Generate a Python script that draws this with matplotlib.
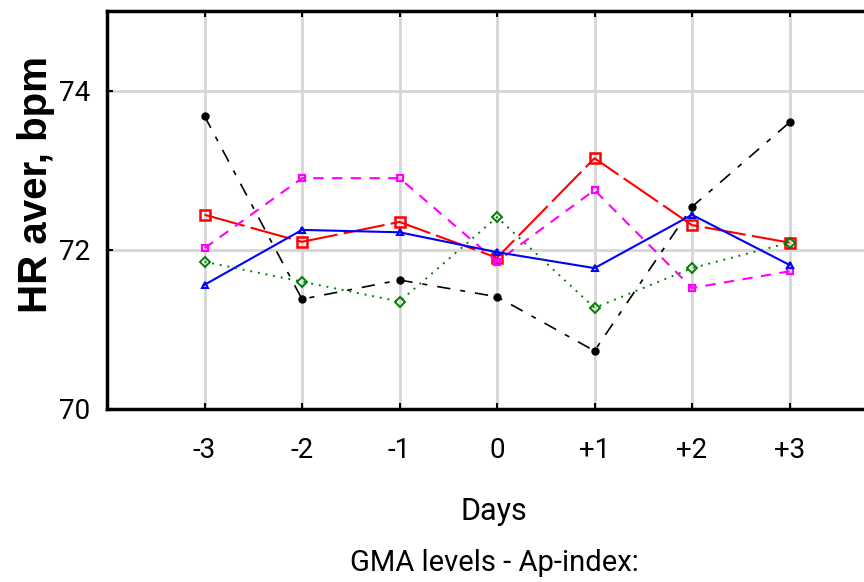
import matplotlib.pyplot as plt
import numpy as np

days = [-3, -2, -1, 0, 1, 2, 3]
day_labels = ["-3", "-2", "-1", "0", "+1", "+2", "+3"]

hr_black = [73.68, 71.38, 71.62, 71.41, 70.73, 72.54, 73.60]
hr_red = [72.44, 72.10, 72.35, 71.90, 73.15, 72.31, 72.09]
hr_magenta = [72.02, 72.90, 72.90, 71.85, 72.75, 71.52, 71.73]
hr_blue = [71.56, 72.25, 72.22, 71.97, 71.77, 72.44, 71.81]
hr_green = [71.85, 71.60, 71.35, 72.41, 71.27, 71.77, 72.09]

fig = plt.figure(figsize=(8.64, 5.82), dpi=100)
# axes box runs off the right edge of the picture
ax = fig.add_axes([107 / 864, 1 - 409 / 582, (864 - 107) / 864, (409 - 11) / 582])

ax.plot(days, hr_black, color="black", lw=1.2, dashes=(8, 6, 3, 6),
        marker="o", ms=5, mfc="black", zorder=3)
ax.plot(days, hr_red, color="red", lw=1.5, dashes=(20, 3),
        marker="s", ms=7, mfc="none", mew=1.8, zorder=3)
ax.plot(days, hr_magenta, color="magenta", lw=1.5, dashes=(5, 4),
        marker="s", ms=5, mfc="none", mew=1.6, zorder=3)
ax.plot(days, hr_blue, color="blue", lw=1.5,
        marker="^", ms=5, mfc="none", mew=1.5, zorder=3)
ax.plot(days, hr_green, color="green", lw=1.4, ls=(0, (1, 3)),
        marker="D", ms=5, mfc="none", mew=1.4, zorder=3)

ax.set_xlim(-4, -4 + 757 / 97.5)
ax.set_ylim(70, 75)
ax.set_xticks(days)
ax.set_xticklabels(day_labels)
ax.set_yticks([70, 72, 74])
ax.grid(True, color="#d6d6d6", lw=2)
ax.set_axisbelow(True)

for side in ["left", "bottom", "top"]:
    ax.spines[side].set_linewidth(2.5)
ax.spines["right"].set_visible(False)
ax.tick_params(direction="in", length=4, width=1.5, top=True, labelsize=20)
ax.tick_params(axis="x", pad=20)
ax.tick_params(axis="y", pad=12)
for lab in ax.get_xticklabels() + ax.get_yticklabels():
    lab.set_fontfamily("Roboto")

ax.set_ylabel("HR aver, bpm", fontsize=29, fontweight="bold",
              family="Liberation Sans", va="center")
ax.yaxis.set_label_coords(-0.094, 0.563)
fig.text(494 / 864, 1 - 512 / 582, "Days", ha="center", va="center",
         fontsize=22, family="Roboto")
fig.text(494 / 864, 1 - 563 / 582, "GMA levels - Ap-index:", ha="center",
         va="center", fontsize=21, family="Roboto")

fig.savefig("out.png", dpi=100)
